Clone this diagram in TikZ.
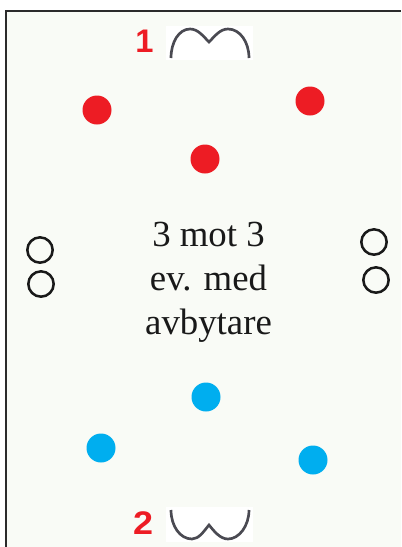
\documentclass[tikz,border=0pt]{standalone}
\usepackage{fontspec}
\usepackage{graphicx}
\setmainfont{Liberation Serif}
\newfontfamily\labelfont{Liberation Sans}
\definecolor{fieldbg}{HTML}{F9FBF6}
\definecolor{redteam}{HTML}{ED1C24}
\definecolor{blueteam}{HTML}{00AEEF}
\definecolor{linegrey}{HTML}{2B2B2B}
\definecolor{goalgrey}{HTML}{4A4A52}
\tikzset{
  player/.style={circle,inner sep=0pt,minimum size=21.75pt,draw=none},
  redp/.style={player,fill=redteam},
  bluep/.style={player,fill=blueteam},
  openp/.style={circle,inner sep=0pt,minimum size=19pt,draw=black!90,line width=1.9pt},
  goalline/.style={draw=goalgrey,line width=2pt,line join=miter},
  goalnum/.style={text=redteam,font=\labelfont\bfseries\fontsize{24.5}{24.5}\selectfont,inner sep=0pt},
  centertext/.style={align=center,inner sep=0pt,text=black!90,font=\fontsize{27.6}{33}\selectfont}
}
\begin{document}
\begin{tikzpicture}[x=0.75pt,y=-0.75pt]
\useasboundingbox (0,0) rectangle (401,547);
\fill[white] (0,0) rectangle (401,547);
\fill[fieldbg] (6,11) rectangle (401,547);
\draw[linegrey,line width=0.9pt] (6,547) -- (6,11) -- (401,11);
% goals
\fill[white] (166,26) rectangle (253,60);
\fill[white] (166,507) rectangle (253,542);
\draw[goalline] (171,58) .. controls (171,42) and (179,29) .. (190,29)
  .. controls (198,29) and (203,36) .. (209,42)
  .. controls (215,36) and (220,29) .. (228,29)
  .. controls (240,29) and (249,42) .. (249,58);
\draw[goalline] (171,510) .. controls (171,526) and (180,539) .. (192,539)
  .. controls (199,539) and (204,531) .. (209,525)
  .. controls (214,531) and (220,539) .. (228,539)
  .. controls (239,539) and (249,526) .. (249,510);
\node[goalnum] (n1) at (144.5,41) {\scalebox{1.0}[1]{1}};
\node[goalnum] (n2) at (143,523.5) {\scalebox{1.1}[1]{2}};
% players
\node[redp] (r1) at (97,110) {};
\node[redp] (r2) at (310,101) {};
\node[redp] (r3) at (205,159) {};
\node[bluep] (b1) at (206,397) {};
\node[bluep] (b2) at (101,448) {};
\node[bluep] (b3) at (313,460) {};
\node[openp] (o1) at (40,250) {};
\node[openp] (o2) at (41,284) {};
\node[openp] (o3) at (374,242) {};
\node[openp] (o4) at (376,280) {};
\node[centertext] (t) at (208.5,282.5) {3 mot 3\\ev. med\\avbytare};
\end{tikzpicture}
\end{document}
